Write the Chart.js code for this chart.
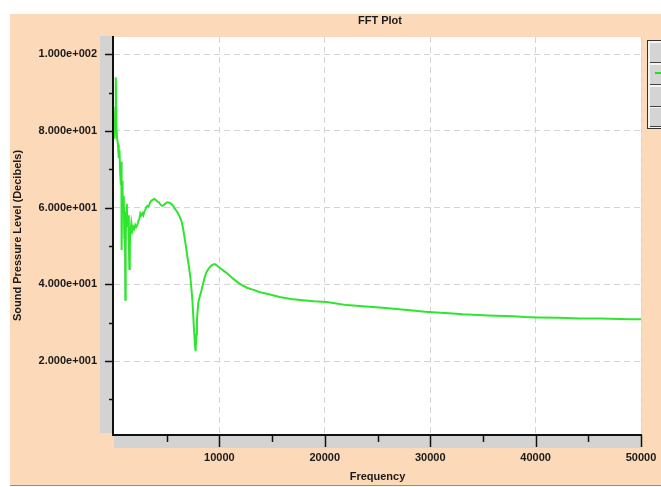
<!DOCTYPE html>
<html><head><meta charset="utf-8">
<script src="https://cdn.jsdelivr.net/npm/chart.js@4.4.1/dist/chart.umd.min.js"></script>
<style>html,body{margin:0;padding:0;background:#fff;overflow:hidden}#wrap{width:661px;height:487px;position:relative}</style>
</head><body><div id="wrap"><canvas id="c" width="661" height="487"></canvas></div>
<script>
const chartTitle = "FFT Plot";
const xTitle = "Frequency";
const yTitle = "Sound Pressure Level (Decibels)";
const xTickValues = [10000, 20000, 30000, 40000, 50000];
const xMinorTicks = [5000, 15000, 25000, 35000, 45000];
const yTickValues = [20, 40, 60, 80, 100];
const yMinorTicks = [10, 30, 50, 70, 90];
const frequency = [60,120,170,230,300,380,450,520,580,646,700,722,760,789,840,884,930,979,1030,1074,1110,1150,1216,1260,1311,1360,1406,1454,1500,1549,1644,1740,1834,1930,2024,2120,2214,2310,2404,2500,2594,2690,2784,2880,2974,3070,3164,3260,3354,3450,3544,3690,3829,3970,4114,4260,4400,4589,4730,4874,5064,5254,5444,5600,5729,5919,6060,6204,6394,6540,6679,6820,6964,7110,7250,7340,7440,7535,7630,7700,7725,7772,7820,7870,7915,8010,8150,8295,8430,8580,8720,8865,9054,9200,9339,9530,9680,9815,10005,10250,10480,10720,10955,11300,11715,12100,12570,12950,13330,13700,14090,14900,15705,16800,17890,19000,20170,21100,22070,23600,25200,26800,28340,29500,30620,31800,33090,35500,37840,39000,40120,42200,44210,46100,48010,49000,50000];
const soundPressure = [78,86,94,81,78,76.5,73,75,69.5,66,72,49,60,67,64,61,63,52,59,36,50,58,61,57,55,58,52,44,50,53,56,54,55,54.5,55.5,55,55.5,56.5,57,58.5,58,58.5,58,59,59.5,60.2,60.5,60.3,60.8,61.5,61.8,62.1,62.3,62,61.6,61.4,60.8,60.5,60.7,61.1,61.4,61.3,61,60.5,59.9,59.2,58.6,57.8,56.6,54.8,52.5,50,47.2,44.6,41.8,39,35.8,31,26.5,23.5,22.6,23.2,27,30.5,32.5,35.5,37,38.4,40,41.6,42.8,43.6,44.4,44.8,45.1,45.3,45.1,44.8,44.4,43.9,43.4,42.9,42.3,41.5,40.6,39.9,39.2,38.8,38.5,38.1,37.8,37.3,36.7,36.2,35.9,35.6,35.4,35,34.6,34.3,34,33.6,33.2,32.9,32.7,32.5,32.2,31.9,31.7,31.5,31.4,31.3,31.1,31.1,31,30.9,30.9];

const FONT = {family: "'Liberation Sans', Arial, sans-serif", size: 11, weight: 'bold'};
const fmtExp = v => {
  const e = Math.floor(Math.log10(Math.abs(v)));
  const m = v / Math.pow(10, e);
  const es = String(Math.abs(e)).padStart(3, '0');
  return m.toFixed(3) + 'e' + (e < 0 ? '-' : '+') + es;
};

const decor = {
  id: 'decor',
  beforeDraw(chart) {
    const ctx = chart.ctx, a = chart.chartArea;
    ctx.save();
    ctx.fillStyle = '#ffffff'; ctx.fillRect(0, 0, chart.width, chart.height);
    ctx.fillStyle = '#fcd9b9'; ctx.fillRect(10, 14, chart.width - 10, 471);
    ctx.fillStyle = '#9a8c80'; ctx.fillRect(10, 485, chart.width - 10, 1);
    ctx.fillStyle = '#d3d3d3';
    ctx.fillRect(a.left - 14, a.top - 1, 12, a.bottom - a.top);
    ctx.fillRect(a.left, a.bottom + 1, a.right - a.left, 13);
    ctx.fillStyle = '#ffffff'; ctx.fillRect(a.left - 1, a.top, a.right - a.left + 1, a.bottom - a.top);
    ctx.restore();
  },
  afterDraw(chart) {
    const ctx = chart.ctx, a = chart.chartArea;
    const xs = chart.scales.x, ys = chart.scales.y;
    ctx.save();
    ctx.strokeStyle = '#111'; ctx.lineWidth = 2;
    ctx.beginPath();
    ctx.moveTo(a.left - 1, a.top - 1); ctx.lineTo(a.left - 1, a.bottom + 1);
    ctx.moveTo(a.left - 2, a.bottom + 1); ctx.lineTo(a.right + 1, a.bottom + 1);
    ctx.stroke();
    ctx.lineWidth = 1.5;
    ctx.beginPath();
    yTickValues.forEach(v => { const y = Math.round(ys.getPixelForValue(v)) + 0.5; ctx.moveTo(a.left - 9, y); ctx.lineTo(a.left - 1, y); });
    yMinorTicks.forEach(v => { const y = Math.round(ys.getPixelForValue(v)) + 0.5; ctx.moveTo(a.left - 5, y); ctx.lineTo(a.left - 1, y); });
    xTickValues.forEach(v => { const x = Math.round(xs.getPixelForValue(v)) + 0.5; ctx.moveTo(x, a.bottom + 1); ctx.lineTo(x, a.bottom + 13); });
    xMinorTicks.forEach(v => { const x = Math.round(xs.getPixelForValue(v)) + 0.5; ctx.moveTo(x, a.bottom + 1); ctx.lineTo(x, a.bottom + 8); });
    ctx.stroke();
    ctx.fillStyle = '#1a1a1a';
    ctx.font = "bold 11px 'Liberation Sans', Arial, sans-serif";
    ctx.textAlign = 'center'; ctx.textBaseline = 'middle';
    ctx.fillText(chartTitle, 380, 21);
    ctx.fillStyle = '#f4f4f4'; ctx.fillRect(647, 40, 14, 89);
    ctx.strokeStyle = '#333'; ctx.lineWidth = 1;
    ctx.strokeRect(647.5, 40.5, 20, 88);
    const cells = [[43, 19], [65, 19], [87, 19], [108, 18]];
    cells.forEach(c => {
      ctx.fillStyle = '#d4d4d4'; ctx.fillRect(650, c[0], 12, c[1]);
      ctx.fillStyle = '#444'; ctx.fillRect(650, c[0] + c[1], 12, 1);
    });
    ctx.fillStyle = '#22e022'; ctx.fillRect(655, 72, 7, 2);
    ctx.restore();
  }
};

new Chart(document.getElementById('c'), {
  type: 'line',
  data: {
    datasets: [{
      label: 'SPL',
      data: frequency.map((f, i) => ({x: f, y: soundPressure[i]})),
      borderColor: '#2ee62e',
      borderWidth: 2,
      pointRadius: 0,
      tension: 0,
      fill: false
    }]
  },
  options: {
    responsive: false,
    animation: false,
    devicePixelRatio: 1,
    layout: {padding: {left: 0, top: 37, right: 20, bottom: 0}},
    plugins: {legend: {display: false}, tooltip: {enabled: false}, title: {display: false}},
    scales: {
      x: {
        type: 'linear', min: 0, max: 50000,
        afterBuildTicks: s => { s.ticks = xTickValues.map(v => ({value: v})); },
        afterFit: s => { s.height = 53; s.paddingLeft = 0; s.paddingRight = 0; },
        ticks: {font: FONT, color: '#1a1a1a', padding: 17, maxRotation: 0, autoSkip: false, callback: v => String(v)},
        grid: {color: '#d4d4d4', lineWidth: 1, drawTicks: false},
        border: {display: false, dash: [6, 4]},
        title: {display: true, text: xTitle, font: FONT, color: '#1a1a1a', padding: {top: 0, bottom: 3.4}}
      },
      y: {
        type: 'linear', min: 1, max: 104.5,
        afterBuildTicks: s => { s.ticks = yTickValues.map(v => ({value: v})); },
        afterFit: s => { s.width = 114; s.paddingTop = 0; s.paddingBottom = 0; },
        ticks: {font: FONT, color: '#1a1a1a', padding: 17, callback: v => fmtExp(v)},
        grid: {color: '#d4d4d4', lineWidth: 1, drawTicks: false},
        border: {display: false, dash: [6, 4]},
        title: {display: true, text: yTitle, font: FONT, color: '#1a1a1a', padding: {top: 11.4, bottom: 0}}
      }
    }
  },
  plugins: [decor]
});
</script></body></html>
